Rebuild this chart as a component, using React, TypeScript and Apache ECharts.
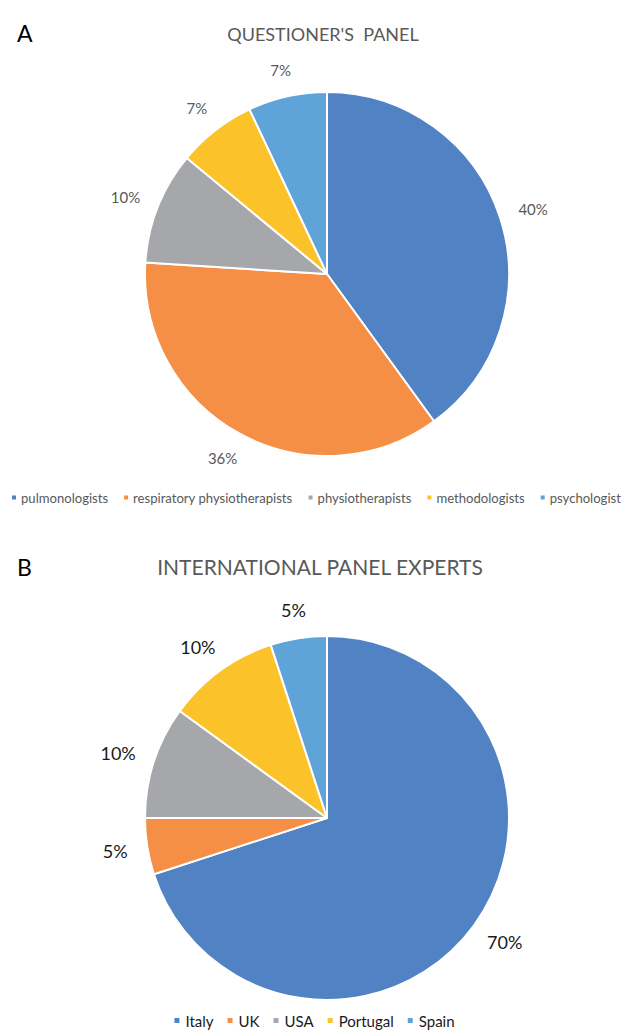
import React, { useEffect, useRef } from "react";
import * as echarts from "echarts";

const catsA = ["pulmonologists", "respiratory physiotherapists", "physiotherapists", "methodologists", "psychologist"];
const valsA = [40, 36, 10, 7, 7];
const catsB = ["Italy", "UK", "USA", "Portugal", "Spain"];
const valsB = [70, 5, 10, 10, 5];
const palette = ["#5082C4", "#F48F45", "#A5A7AA", "#FCC22A", "#5FA4D9"];

const FONT = "Lato, 'Open Sans', sans-serif";
const R = 182;
const centerA = [327, 274];
const centerB = [327, 818];
const GAP = 20;

function midDir(vals: number[], i: number) {
  const total = vals.reduce((a, b) => a + b, 0);
  let cum = 0;
  for (let k = 0; k < i; k++) cum += vals[k];
  const a = ((cum + vals[i] / 2) / total) * Math.PI * 2;
  return [Math.sin(a), -Math.cos(a)];
}

function makeLayout(vals: number[], center: number[]) {
  return (params: any) => {
    const [dx, dy] = midDir(vals, params.dataIndex);
    const w = params.labelRect.width;
    const h = params.labelRect.height;
    return {
      x: center[0] + dx * (R + GAP) + (dx * w) / 2,
      y: center[1] + dy * (R + GAP) + (dy * h) / 2,
      align: "center",
      verticalAlign: "middle",
    };
  };
}

export default function App() {
  const ref = useRef<HTMLDivElement>(null);
  useEffect(() => {
    if (!ref.current) return;
    const chart = echarts.init(ref.current, null, { renderer: "svg" });
    chart.setOption({
      animation: false,
      backgroundColor: "#ffffff",
      color: palette,
      title: [
        { text: "A", left: 12, top: 16, textStyle: { fontFamily: FONT, fontSize: 23, fontWeight: "normal", color: "#000" } },
        { text: "QUESTIONER'S  PANEL", left: 318, textAlign: "center", top: 20, textStyle: { fontFamily: FONT, fontSize: 18, fontWeight: "normal", color: "#595959" } },
        { text: "B", left: 12, top: 550, textStyle: { fontFamily: FONT, fontSize: 23, fontWeight: "normal", color: "#000" } },
        { text: "INTERNATIONAL PANEL EXPERTS", left: 315, textAlign: "center", top: 551, textStyle: { fontFamily: FONT, fontSize: 21, fontWeight: "normal", color: "#595959" } },
      ],
      legend: [
        {
          data: catsA,
          left: 10,
          width: 617,
          top: 486,
          padding: [5, 0, 5, 0],
          icon: "rect",
          itemWidth: 6,
          itemHeight: 6,
          itemGap: 14,
          textStyle: { fontFamily: FONT, fontSize: 13.1, color: "#595959", padding: [0, 0, 0, -1] },
        },
        {
          data: catsB,
          left: "center",
          top: 1008,
          icon: "rect",
          itemWidth: 7,
          itemHeight: 7,
          itemGap: 12,
          textStyle: { fontFamily: FONT, fontSize: 15, color: "#1a1a1a" },
        },
      ],
      series: [
        {
          type: "pie",
          center: centerA,
          radius: R,
          startAngle: 90,
          clockwise: true,
          itemStyle: { borderColor: "#ffffff", borderWidth: 2 },
          label: { show: true, position: "outside", formatter: "{c}%", fontFamily: FONT, fontSize: 15, color: "#595959" },
          labelLine: { show: false },
          labelLayout: makeLayout(valsA, centerA),
          emphasis: { disabled: true },
          data: catsA.map((n, i) => ({ name: n, value: valsA[i] })),
        },
        {
          type: "pie",
          center: centerB,
          radius: R,
          startAngle: 90,
          clockwise: true,
          itemStyle: { borderColor: "#ffffff", borderWidth: 2 },
          label: { show: true, position: "outside", formatter: "{c}%", fontFamily: FONT, fontSize: 18, color: "#1a1a1a" },
          labelLine: { show: false },
          labelLayout: makeLayout(valsB, centerB),
          emphasis: { disabled: true },
          data: catsB.map((n, i) => ({ name: n, value: valsB[i] })),
        },
      ],
    });
    return () => chart.dispose();
  }, []);
  return <div ref={ref} style={{ position: "absolute", left: 0, top: 0, width: 627, height: 1032 }} />;
}
